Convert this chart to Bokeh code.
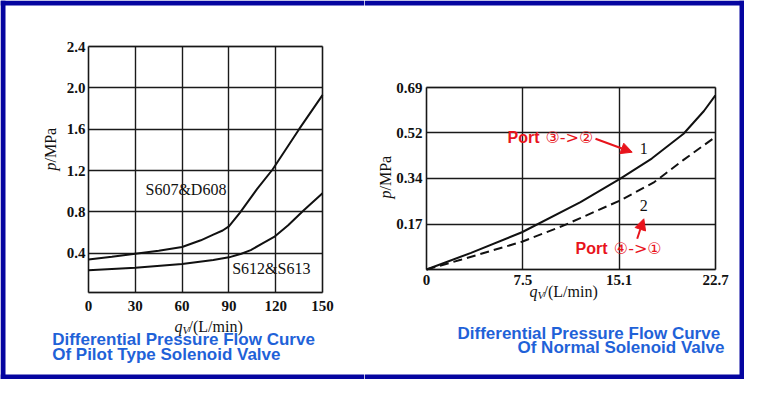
import numpy as np
from bokeh.plotting import figure
from bokeh.models import Range1d, FixedTicker, Label, Arrow, NormalHead, BoxAnnotation
from bokeh.layouts import row
from bokeh.embed import file_html
from bokeh.resources import INLINE

# ---------------- data: pilot type solenoid valve ----------------
left_x_ticks = [0, 30, 60, 90, 120, 150]
left_x_labels = ["0", "30", "60", "90", "120", "150"]
left_y_ticks = [0.4, 0.8, 1.2, 1.6, 2.0, 2.4]
left_y_labels = ["0.4", "0.8", "1.2", "1.6", "2.0", "2.4"]

s607_flow = [0, 15, 30, 45, 60, 72, 80, 86, 90, 97, 108, 118, 135, 150]
s607_p = [0.34, 0.365, 0.395, 0.425, 0.46, 0.525, 0.58, 0.62, 0.66, 0.79, 1.02, 1.21, 1.6, 1.93]

s612_flow = [0, 30, 60, 80, 90, 98, 104, 111, 119, 128, 138, 150]
s612_p = [0.235, 0.26, 0.295, 0.335, 0.36, 0.395, 0.43, 0.49, 0.557, 0.67, 0.815, 0.98]

# ---------------- data: normal solenoid valve ----------------
right_x_ticks = [0, 7.57, 15.14, 22.71]
right_x_labels = ["0", "7.5", "15.1", "22.7"]
right_y_ticks = [0.172, 0.345, 0.517, 0.689]
right_y_labels = ["0.17", "0.34", "0.52", "0.69"]

port32_flow = [0, 3.5, 7.5, 12.1, 15.2, 17.7, 20.2, 21.8, 22.7]
port32_p = [0, 0.063, 0.141, 0.255, 0.343, 0.42, 0.514, 0.6, 0.659]

port41_flow = [0, 2.7, 7.5, 10.8, 15.2, 17.9, 20.2, 22.5]
port41_p = [0, 0.037, 0.105, 0.167, 0.261, 0.331, 0.415, 0.495]

# ---------------- styling constants ----------------
NAVY = "#0505a0"
BLUE = "#1f62d8"
RED = "#e8141c"
INK = "#111111"
SERIF = "Liberation Serif"
SANS = "Liberation Sans"

# geometry in picture pixels (canvas origin at 0, 0)
W1, W2, H = 364, 380, 379
C1_L, C1_R = 0, W1
C2_L, C2_R = W1, W1 + W2
C_T, C_B = 0, H

L_BOX = dict(x0=88, x1=322, y0=292, y1=46)
R_BOX = dict(x0=426, x1=715, y0=269, y1=87)
L_DOM = dict(x0=0, x1=150, y0=0.02, y1=2.4)
R_DOM = dict(x0=0, x1=22.71, y0=0, y1=0.689)


def mapper(box, dom):
    def fx(px):
        return dom["x0"] + (px - box["x0"]) * (dom["x1"] - dom["x0"]) / (box["x1"] - box["x0"])

    def fy(py):
        return dom["y0"] + (py - box["y0"]) * (dom["y1"] - dom["y0"]) / (box["y1"] - box["y0"])
    return fx, fy


lx, ly = mapper(L_BOX, L_DOM)
rx, ry = mapper(R_BOX, R_DOM)


def make_fig(W, fx, fy, cl, cr):
    p = figure(width=W, height=H, x_range=Range1d(fx(cl), fx(cr)),
               y_range=Range1d(fy(C_B), fy(C_T)), output_backend="svg",
               toolbar_location=None, min_border=0)
    p.background_fill_color = "white"
    p.border_fill_color = "white"
    p.outline_line_color = None
    return p


def style(p, dom, xt, xl, yt, yl, xstand, ystand):
    p.xaxis.ticker = FixedTicker(ticks=xt)
    p.yaxis.ticker = FixedTicker(ticks=yt)
    p.xaxis.major_label_overrides = {t: s for t, s in zip(xt, xl)}
    p.yaxis.major_label_overrides = {t: s for t, s in zip(yt, yl)}
    p.xaxis.fixed_location = dom["y0"]
    p.yaxis.fixed_location = dom["x0"]
    for ax in (p.xaxis, p.yaxis):
        ax.axis_line_color = None
        ax.major_tick_line_color = None
        ax.minor_tick_line_color = None
        ax.major_tick_in = 0
        ax.major_tick_out = 0
        ax.major_label_text_font = SERIF
        ax.major_label_text_font_size = "15px"
        ax.major_label_text_font_style = "bold"
        ax.major_label_text_color = INK
    p.xaxis.major_label_standoff = xstand
    p.yaxis.major_label_standoff = ystand
    gx = [dom["x0"]] + [t for t in xt if t != dom["x0"]]
    gy = [dom["y0"]] + [t for t in yt if t != dom["y0"]]
    p.xgrid.ticker = FixedTicker(ticks=gx)
    p.ygrid.ticker = FixedTicker(ticks=gy)
    ok = True
    try:
        p.xgrid.cross_bounds = (dom["y0"], dom["y1"])
        p.ygrid.cross_bounds = (dom["x0"], dom["x1"])
    except Exception:
        ok = False
    if ok:
        for g in (p.xgrid, p.ygrid):
            g.grid_line_color = "#1a1a1a"
            g.grid_line_width = 1.4
    else:
        p.xgrid.visible = False
        p.ygrid.visible = False
        p.segment(x0=gx, y0=[dom["y0"]] * len(gx), x1=gx, y1=[dom["y1"]] * len(gx),
                  line_color="#1a1a1a", line_width=1.4)
        p.segment(x0=[dom["x0"]] * len(gy), y0=gy, x1=[dom["x1"]] * len(gy), y1=gy,
                  line_color="#1a1a1a", line_width=1.4)
    p.add_layout(BoxAnnotation(left=dom["x0"], right=dom["x1"], bottom=dom["y0"], top=dom["y1"],
                               fill_alpha=0, line_color=INK, line_width=1.8))


def lab(p, x, y, text, font=SERIF, size="16px", color=INK, fstyle="normal",
        align="left", baseline="middle", angle=0.0):
    p.add_layout(Label(x=x, y=y, text=text, text_font=font, text_font_size=size,
                       text_color=color, text_font_style=fstyle, text_align=align,
                       text_baseline=baseline, angle=angle))


def bar(p, fx, fy, x0, x1, y0, y1):
    p.add_layout(BoxAnnotation(left=fx(x0), right=fx(x1), top=fy(y0), bottom=fy(y1),
                               fill_color=NAVY, fill_alpha=1.0, line_color=None))


T = 5
# ---------------- left figure ----------------
p1 = make_fig(W1, lx, ly, C1_L, C1_R)
style(p1, L_DOM, left_x_ticks, left_x_labels, left_y_ticks, left_y_labels, 8, 3)
p1.line(s607_flow, s607_p, line_color=INK, line_width=2)
p1.line(s612_flow, s612_p, line_color=INK, line_width=2)

lab(p1, lx(145), ly(189), "S607&D608")
lab(p1, lx(231.7), ly(267.5), "S612&S613")
lab(p1, lx(50), ly(170), "p", fstyle="italic", angle=np.pi / 2)
lab(p1, lx(50), ly(162), "/MPa", angle=np.pi / 2)
lab(p1, lx(174), ly(326), "q", fstyle="italic")
lab(p1, lx(182), ly(329.5), "V", size="11px", fstyle="italic")
lab(p1, lx(188), ly(326), "/(L/min)")
lab(p1, lx(51.7), ly(339), "Differential Pressure Flow Curve", font=SANS, size="17px",
    color=BLUE, fstyle="bold")
lab(p1, lx(51.7), ly(354), "Of Pilot Type Solenoid Valve", font=SANS, size="17px",
    color=BLUE, fstyle="bold")
bar(p1, lx, ly, C1_L, C1_R, C_T, C_T + T)
bar(p1, lx, ly, C1_L, C1_R, C_B - T, C_B)
bar(p1, lx, ly, C1_L, C1_L + T, C_T, C_B)

# ---------------- right figure ----------------
p2 = make_fig(W2, rx, ry, C2_L, C2_R)
style(p2, R_DOM, right_x_ticks, right_x_labels, right_y_ticks, right_y_labels, 5, 4)
p2.line(port32_flow, port32_p, line_color=INK, line_width=2)
p2.line(port41_flow, port41_p, line_color=INK, line_width=2, line_dash="9 5")

lab(p2, rx(643.3), ry(148.3), "1", align="center")
lab(p2, rx(643.3), ry(205), "2", align="center")
lab(p2, rx(507), ry(136.7), "Port", font=SANS, color=RED, fstyle="bold")
lab(p2, rx(545), ry(136.7), "③->②", font="DejaVu Sans", size="16px", color=RED)
lab(p2, rx(575), ry(248.3), "Port", font=SANS, color=RED, fstyle="bold")
lab(p2, rx(613.3), ry(248.3), "④->①", font="DejaVu Sans", size="16px", color=RED)
p2.add_layout(Arrow(end=NormalHead(size=11, fill_color=RED, line_color=RED),
                    x_start=rx(595), y_start=ry(138.3), x_end=rx(631.7), y_end=ry(151.7),
                    line_color=RED, line_width=2))
p2.add_layout(Arrow(end=NormalHead(size=11, fill_color=RED, line_color=RED),
                    x_start=rx(636.7), y_start=ry(238.3), x_end=rx(643.3), y_end=ry(218.3),
                    line_color=RED, line_width=2))
lab(p2, rx(385), ry(198), "p", fstyle="italic", angle=np.pi / 2)
lab(p2, rx(385), ry(190), "/MPa", angle=np.pi / 2)
lab(p2, rx(529), ry(291), "q", fstyle="italic")
lab(p2, rx(537), ry(294.5), "V", size="11px", fstyle="italic")
lab(p2, rx(543), ry(291), "/(L/min)")
lab(p2, rx(457), ry(333), "Differential Pressure Flow Curve", font=SANS, size="17px",
    color=BLUE, fstyle="bold")
lab(p2, rx(517), ry(347), "Of Normal Solenoid Valve", font=SANS, size="17px",
    color=BLUE, fstyle="bold")
bar(p2, rx, ry, C2_L, C2_R, C_T, C_T + T)
bar(p2, rx, ry, C2_L, C2_R, C_B - T, C_B)
bar(p2, rx, ry, C2_R - T, C2_R, C_T, C_B)

layout = row(p1, p2)
open("out.html", "w").write(file_html(layout, INLINE))
